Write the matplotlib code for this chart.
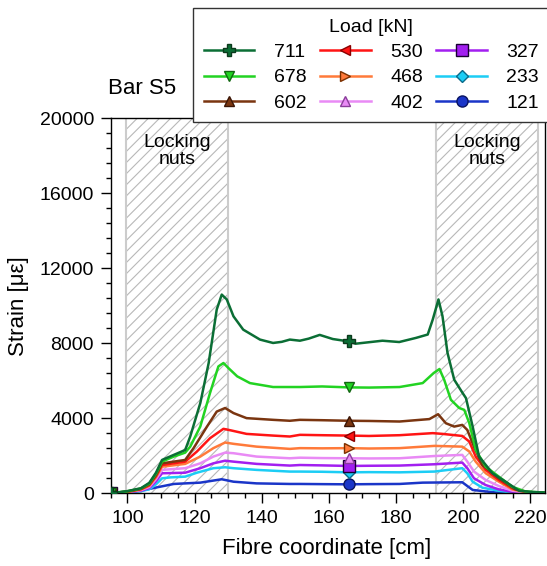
import matplotlib.pyplot as plt
from matplotlib.lines import Line2D
from matplotlib.ticker import MultipleLocator

plt.rcParams['font.family'] = ['Liberation Sans', 'DejaVu Sans']
plt.rcParams['hatch.linewidth'] = 0.8

# strain profiles along the fibre, one per load step [kN]
loads = [711, 678, 602, 530, 468, 402, 327, 233, 121]

x_711 = [95, 100, 104, 106.5, 108.5, 110.3, 113.8, 117.2, 118.7, 121.7, 124.2, 126.6, 128.1, 129.6, 131.6,
         134.5, 139.5, 143.4, 146, 148.4, 151.4, 154, 157.3, 161.2, 166, 168, 172, 176, 181, 186, 189.5, 191,
         192.7, 193.9, 195.4, 197.4, 199.9, 200.9, 202.9, 204.8, 208.8, 212.7, 216.7, 220.6, 225]
y_711 = [0, 120, 270, 560, 1100, 1780, 2050, 2310, 3030, 4810, 6950, 9800, 10600, 10340, 9440,
         8730, 8200, 8020, 8080, 8200, 8140, 8250, 8450, 8230, 8100, 7980, 8060, 8140, 8070, 8290, 8470, 9270,
         10340, 9450, 7490, 6060, 5350, 5080, 3560, 1960, 1070, 620, 140, 70, 40]

x_678 = [95, 100, 104, 106.5, 108.5, 110.3, 113.8, 117.2, 118.7, 121.7, 124.6, 127.1, 128.6, 130.1, 132.7,
         136.5, 143.4, 148.4, 151.4, 158, 166, 172, 181.1, 188, 191.3, 193, 194.4, 196.4, 198.9, 200.4, 201.9,
         203.8, 206.8, 210.7, 214.7, 218.6, 225]
y_678 = [0, 110, 260, 520, 1050, 1690, 1960, 2170, 2490, 3560, 5350, 6770, 6950, 6680, 6240,
         5880, 5670, 5670, 5670, 5700, 5650, 5640, 5670, 5880, 6420, 6630, 6060, 4990, 4550, 4450, 3740,
         2320, 1420, 890, 350, 100, 30]

x_602 = [95, 100, 104, 106.5, 108.5, 110.3, 117.2, 119.7, 123.7, 126.6, 129.1, 131.6, 135.5, 143.4, 148.4,
         151.4, 158, 166, 172, 181.1, 190, 192.6, 194.9, 197.4, 199.8, 201.3, 203.3, 205.8, 210.7, 215.6,
         219.6, 225]
y_602 = [0, 100, 240, 480, 980, 1600, 1780, 2410, 3560, 4360, 4550, 4280, 4010, 3920, 3870,
         3920, 3900, 3870, 3860, 3830, 3960, 4220, 3740, 3560, 3650, 3380, 2490, 1510, 800, 210,
         60, 20]

x_530 = [95, 100, 104, 106.5, 108.5, 110.3, 117.2, 120.7, 124.6, 128.6, 131, 135.5, 143.4, 148.4, 151.4,
         158, 166, 172, 181.1, 191, 193.9, 199.8, 201.9, 203.8, 206.8, 210.7, 214.7, 218.6, 225]
y_530 = [0, 90, 220, 440, 920, 1510, 1690, 2230, 2940, 3440, 3350, 3170, 3080, 3030, 3120,
         3100, 3080, 3060, 3100, 3210, 3170, 3060, 2760, 1960, 1250, 710, 270, 80, 20]

x_468 = [95, 100, 104, 106.5, 108.5, 110.3, 117.2, 121.7, 125.6, 129.1, 131.6, 138.5, 148.4, 151.4, 158,
         166, 172, 181.1, 191.5, 199.8, 201.9, 203.8, 206.8, 210.7, 214.7, 218.6, 225]
y_468 = [0, 80, 200, 400, 860, 1420, 1570, 1960, 2410, 2710, 2640, 2490, 2370, 2410, 2400,
         2410, 2390, 2410, 2530, 2490, 2230, 1690, 1070, 620, 210, 60, 20]

x_402 = [95, 100, 104, 106.5, 108.5, 110.3, 117.2, 121.7, 125.6, 129.1, 131.6, 138.5, 148.4, 151.4, 158,
         166, 172, 181.1, 191.5, 199.8, 201.3, 203.3, 206.8, 210.7, 214.7, 218.6, 225]
y_402 = [0, 70, 170, 340, 760, 1250, 1340, 1600, 1960, 2170, 2140, 1960, 1870, 1900, 1880,
         1870, 1860, 1870, 1990, 2050, 1690, 1160, 710, 390, 140, 30, 10]

x_327 = [95, 100, 104, 106.5, 108.5, 110.3, 117.2, 121.7, 125.6, 129.1, 131.6, 138.5, 148.4, 151.4, 158,
         166, 172, 181.1, 191.5, 199.8, 201.3, 203.3, 206.8, 210.7, 214.7, 218.6, 225]
y_327 = [0, 60, 140, 280, 640, 1070, 1100, 1340, 1600, 1740, 1690, 1570, 1480, 1510, 1490,
         1460, 1470, 1480, 1550, 1640, 1340, 800, 440, 210, 80, 20, 10]

x_233 = [95, 100, 104, 106.5, 108.5, 110.3, 112.8, 117.2, 120.7, 125.6, 129.1, 131.6, 138.5, 148.4, 151.4,
         158, 166, 172, 181.1, 191.5, 199.8, 201.3, 202.9, 205.8, 210.7, 214.7, 225]
y_233 = [0, 50, 110, 220, 480, 800, 850, 890, 1100, 1340, 1390, 1340, 1250, 1160, 1160,
         1150, 1120, 1130, 1120, 1160, 1340, 1070, 620, 300, 140, 30, 10]

x_121 = [95, 100, 103.9, 108.8, 113.8, 121.7, 128.1, 131.6, 138.5, 148.4, 151.4, 158, 166, 172, 181.1,
         188, 199.8, 201.3, 202.9, 206.8, 210.7, 225]
y_121 = [0, 60, 140, 320, 500, 570, 750, 620, 530, 500, 500, 490, 480, 490, 500,
         570, 590, 390, 180, 100, 30, 10]

xs = [x_711, x_678, x_602, x_530, x_468, x_402, x_327, x_233, x_121]
ys = [y_711, y_678, y_602, y_530, y_468, y_402, y_327, y_233, y_121]

colors = ['#0b6e35', '#22d322', '#7a3510', '#ff1414', '#ff7a3a', '#e98af5', '#a21ff0', '#1ccdf5', '#1a35c8']
edges = ['#0b3a1c', '#116611', '#3a1505', '#8a0000', '#7a3000', '#8a3d9a', '#1a0033', '#0a6a8a', '#0a1460']
markers = ['P', 'v', '^', '<', '>', '^', 's', 'D', 'o']
msizes = [8, 7, 7, 7, 7, 7, 8, 6, 8]

nut_spans = [(99.5, 130.0), (192.0, 222.5)]

fig = plt.figure(figsize=(5.47, 5.66), dpi=100)
ax = fig.add_axes([0.2024, 0.1284, 0.7948, 0.6625])

# hatched locking-nut zones
for x0, x1 in nut_spans:
    ax.axvspan(x0, x1, facecolor='white', edgecolor='#b8b8b8', hatch='///', linewidth=0, zorder=0.5)
    ax.axvline(x0, color='#cccccc', lw=1.5, zorder=0.6)
    ax.axvline(x1, color='#cccccc', lw=1.5, zorder=0.6)
    ax.text((x0 + x1) / 2, 19150, 'Locking\nnuts', ha='center', va='top', fontsize=14,
            linespacing=1.0, zorder=1)

# lightest load first so the high-load curves sit on top
for i in reversed(range(len(loads))):
    mk = [0, xs[i].index(166)]
    ax.plot(xs[i], ys[i], color=colors[i], lw=1.8, marker=markers[i], markevery=mk,
            ms=msizes[i], mfc=colors[i], mec=edges[i], mew=1.0, zorder=2 + (len(loads) - i) * 0.1)

ax.set_xlim(95, 224.6)
ax.set_ylim(0, 20000)
ax.xaxis.set_major_locator(MultipleLocator(20))
ax.xaxis.set_minor_locator(MultipleLocator(5))
ax.yaxis.set_major_locator(MultipleLocator(4000))
ax.yaxis.set_minor_locator(MultipleLocator(800))
ax.tick_params(which='major', direction='out', length=7, width=1, labelsize=14, pad=5)
ax.tick_params(which='minor', direction='out', length=3.5, width=1)
for sp in ax.spines.values():
    sp.set_linewidth(1.0)

ax.set_xlabel('Fibre coordinate [cm]', fontsize=16)
ax.set_ylabel('Strain [\u03bc\u03b5]', fontsize=16)
ax.xaxis.set_label_coords(0.497, -0.12)
ax.yaxis.set_label_coords(-0.188, 0.5)

fig.text(108 / 547, 1 - 88 / 566, 'Bar S5', fontsize=16, va='center', ha='left')

handles = [Line2D([], [], color=colors[i], lw=1.8, marker=markers[i], ms=msizes[i],
                  mfc=colors[i], mec=edges[i], mew=1.0) for i in range(len(loads))]
leg = fig.legend(handles, [str(v) for v in loads], ncol=3, title='Load [kN]',
                 loc='upper left', bbox_to_anchor=(0.353, 0.986), frameon=True, fancybox=False,
                 edgecolor='#333333', framealpha=1, fontsize=14, title_fontsize=14,
                 handlelength=2.6, handletextpad=1.0, columnspacing=0.7, labelspacing=0.4,
                 borderpad=0.55, borderaxespad=0)
leg.get_frame().set_linewidth(1.0)

fig.savefig('out.png', dpi=100)
